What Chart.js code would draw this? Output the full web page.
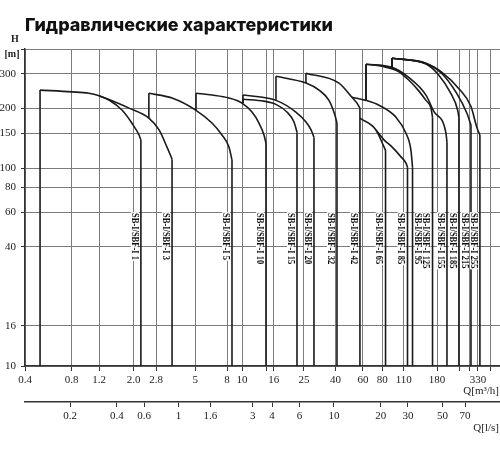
<!DOCTYPE html>
<html><head><meta charset="utf-8">
<script src="https://cdn.jsdelivr.net/npm/chart.js@4.4.1/dist/chart.umd.min.js"></script>
<style>html,body{margin:0;padding:0;background:#fff;}#wrap{width:500px;height:450px;}</style>
</head><body><div id="wrap"><canvas id="c" width="500" height="450"></canvas></div>
<script>
// ---------- data ----------
const chartTitle = 'Гидравлические характеристики';
const qTicks = [0.4, 0.8, 1.2, 2.0, 2.8, 5, 8, 10, 16, 25, 40, 60, 80, 110, 180, 330];
const qTickLabels = ['0.4','0.8','1.2','2.0','2.8','5','8','10','16','25','40','60','80','110','180','330'];
const qGridOnly = [14.4, 252, 290, 400];
const lsTicks = [0.2, 0.4, 0.6, 1, 1.6, 3, 4, 6, 10, 20, 30, 50, 70];
const hTicks = [10, 16, 40, 60, 80, 100, 150, 200, 300];
const hGridOnly = [400];

const pumpNames = ['SB-I/SBF-I 1','SB-I/SBF-I 3','SB-I/SBF-I 5','SB-I/SBF-I 10','SB-I/SBF-I 15','SB-I/SBF-I 20','SB-I/SBF-I 32','SB-I/SBF-I 42','SB-I/SBF-I 65','SB-I/SBF-I 85','SB-I/SBF-I 95','SB-I/SBF-I 125','SB-I/SBF-I 155','SB-I/SBF-I 185','SB-I/SBF-I 215','SB-I/SBF-I 255'];

const p1Q = [0.5, 0.8, 1.03, 1.2, 1.39, 1.69, 1.95, 2.17, 2.23];
const p1H = [248, 243, 239, 232, 221, 196, 169, 147, 139];
const p3Q = [1.2, 1.39, 1.87, 2.51, 2.92, 3.28, 3.54];
const p3H = [232, 222, 201, 179, 156, 128, 111];
const p5Q = [2.51, 3.54, 5.05, 6.4, 7.42, 8.23, 8.61];
const p5H = [239, 226, 196, 169, 147, 128, 110];
const p10Q = [5.05, 6.4, 8.23, 9.98, 11.58, 12.85, 13.84, 14.25];
const p10H = [239, 234, 226, 213, 192, 169, 147, 134];
const p15Q = [10.13, 13.84, 16.53, 19.45, 21.6, 22.57];
const p15H = [223, 218, 210, 192, 171, 152];
const p20Q = [10.13, 16.53, 22.2, 25.8, 27.8, 29.04];
const p20H = [234, 220, 192, 171, 156, 143];
const p32Q = [16.53, 25.78, 31.3, 36.26, 39.64, 40.83];
const p32H = [291, 269, 248, 220, 185, 169];
const p42Q = [25.78, 42.06, 51.0, 54.9, 57.4];
const p42H = [302, 269, 228, 213, 201];
const p65Q = [57.4, 72.8, 82.0, 83.9];
const p65H = [179, 156, 128, 123];
const p85Q = [72.8, 82.0, 92.3, 105.5, 113.6, 116.2];
const p85H = [156, 139, 128, 114, 106, 101];
const p95Q = [51.0, 62.8, 76.1, 97.9, 113.6, 122.3, 125.2];
const p95H = [228, 220, 208, 181, 150, 123, 101];
const p125Q = [62.8, 79.6, 100.9, 118.8, 137.7, 152.8, 164.6, 168.4];
const p125H = [335, 327, 309, 278, 245, 220, 201, 181];
const p155Q = [62.8, 92.3, 118.8, 152.8, 172, 205.6, 208.6];
const p155H = [335, 323, 287, 234, 193, 150, 135];
const p185Q = [92.3, 152.8, 185, 220, 245, 249];
const p185H = [359, 336, 295, 240, 195, 180];
const p215Q = [92.3, 152.8, 193.7, 240, 280, 297.8];
const p215H = [359, 338, 300, 240, 190, 165];
const p255Q = [92.3, 152.8, 193.7, 249, 297.8, 325.5, 340];
const p255H = [359, 339, 305, 252, 205, 160, 147];
// head where each pump's left (Q min) line stops; null = no separate line
const pumpLeftBase = [10, null, 179, 196, 213, 213, 220, 269, null, null, null, 220, 220, 323, 323, 323];

// ---------- build ----------
const pumpQ = [p1Q,p3Q,p5Q,p10Q,p15Q,p20Q,p32Q,p42Q,p65Q,p85Q,p95Q,p125Q,p155Q,p185Q,p215Q,p255Q];
const pumpH = [p1H,p3H,p5H,p10H,p15H,p20H,p32H,p42H,p65H,p85H,p95H,p125H,p155H,p185H,p215H,p255H];
const lineStyle = {borderColor:'#1a1a1a', borderWidth:1.6, pointRadius:0, showLine:true, fill:false};
const datasets = [];
pumpQ.forEach((qs, i) => {
  const hs = pumpH[i];
  datasets.push(Object.assign({data: qs.map((q, k) => ({x:q, y:hs[k]})), cubicInterpolationMode:'monotone'}, lineStyle));
  if (pumpLeftBase[i] !== null) {
    datasets.push(Object.assign({data:[{x:qs[0], y:pumpLeftBase[i]}, {x:qs[0], y:hs[0]}]}, lineStyle));
  }
  const n = qs.length - 1;
  datasets.push(Object.assign({data:[{x:qs[n], y:hs[n]}, {x:qs[n], y:hTicks[0]}]}, lineStyle));
});

const tickFont = {family:'"Liberation Serif", serif', size:11};
const gridColor = '#7c7c7c';
const extras = {
  id:'extras',
  afterDraw(chart){
    const ctx = chart.ctx, xs = chart.scales.x;
    ctx.save();
    ctx.fillStyle = '#111';
    ctx.textBaseline = 'alphabetic';
    ctx.textAlign = 'left';
    ctx.font = '800 18px Inter';
    const tw = ctx.measureText(chartTitle).width;
    ctx.save(); ctx.translate(25, 31); ctx.scale(308 / tw, 1); ctx.fillText(chartTitle, 0, 0); ctx.restore();

    ctx.fillStyle = '#222';
    ctx.textBaseline = 'middle';
    ctx.textAlign = 'center';
    ctx.font = 'bold 10px "Liberation Serif"';
    ctx.fillText('H', 15, 39);
    ctx.fillText('[m]', 12, 54);
    ctx.textAlign = 'right';
    ctx.font = '11px "Liberation Serif"';
    ctx.fillText('Q[m³/h]', 499, 391);
    ctx.fillText('Q[l/s]', 499, 428);

    // pump labels, vertical
    let prev = -100;
    pumpQ.forEach((qs, i) => {
      const lx = xs.getPixelForValue(qs[qs.length - 1]);
      let cx = lx - 6;
      if (cx - prev < 7) cx = lx + 6;
      prev = cx;
      ctx.save();
      ctx.translate(cx, 213);
      ctx.rotate(Math.PI / 2);
      ctx.scale(0.85, 1);
      ctx.font = 'bold 10px "Liberation Serif"';
      ctx.textAlign = 'left';
      ctx.textBaseline = 'middle';
      const w = ctx.measureText(pumpNames[i]).width;
      ctx.fillStyle = '#fff';
      ctx.fillRect(-1, -4, w + 2, 8);
      ctx.fillStyle = '#111';
      ctx.fillText(pumpNames[i], 0, 0.5);
      ctx.restore();
    });
    ctx.restore();
  }
};

new Chart(document.getElementById('c'), {
  type:'scatter',
  data:{datasets},
  options:{
    responsive:false, animation:false, devicePixelRatio:1,
    layout:{padding:{top:49, left:0, right:0, bottom:0}},
    plugins:{legend:{display:false}, tooltip:{enabled:false}, title:{display:false}},
    scales:{
      x:{type:'logarithmic', position:'bottom', weight:0, min:0.4, max:458,
        afterBuildTicks:s => { s.ticks = qTicks.concat(qGridOnly).sort((a,b)=>a-b).map(v => ({value:v})); },
        afterFit:s => { s.height = 36; },
        ticks:{autoSkip:false, maxRotation:0, minRotation:0, padding:3, color:'#222', font:tickFont,
          callback:v => { const k = qTicks.indexOf(v); return k >= 0 ? qTickLabels[k] : ''; }},
        grid:{color:gridColor, lineWidth:1, tickLength:5, tickColor:'#333'},
        border:{color:'#333', width:1.5}},
      x2:{type:'logarithmic', position:'bottom', weight:1, min:0.1026, max:117.4,
        afterBuildTicks:s => { s.ticks = lsTicks.map(v => ({value:v})); },
        afterFit:s => { s.height = 48; },
        ticks:{autoSkip:false, maxRotation:0, minRotation:0, padding:3, color:'#222', font:tickFont,
          callback:v => String(v)},
        grid:{drawOnChartArea:false, tickLength:5, tickColor:'#333'},
        border:{color:'#333', width:1.5}},
      y:{type:'logarithmic', min:10, max:400,
        afterBuildTicks:s => { s.ticks = hTicks.concat(hGridOnly).map(v => ({value:v})); },
        afterFit:s => { s.width = 25; },
        ticks:{autoSkip:false, padding:5, color:'#222', font:tickFont,
          callback:v => hTicks.indexOf(v) >= 0 ? String(v) : ''},
        grid:{color:gridColor, lineWidth:1, tickLength:4, tickColor:'#333'},
        border:{color:'#333', width:1.5}}
    }
  },
  plugins:[extras]
});
</script></body></html>
